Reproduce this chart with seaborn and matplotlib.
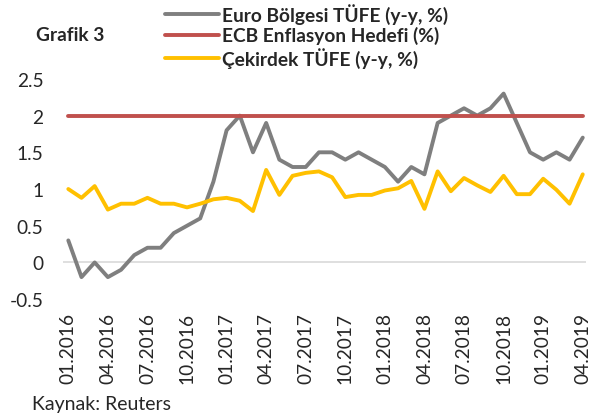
import matplotlib
matplotlib.use("Agg")
import matplotlib.pyplot as plt
import pandas as pd
import seaborn as sns

# aylar: 01.2016 - 04.2019
months = pd.date_range("2016-01-01", "2019-04-01", freq="MS").strftime("%m.%Y").tolist()

euro_cpi = [0.3, -0.2, 0.0, -0.2, -0.1, 0.1, 0.2, 0.2, 0.4, 0.5, 0.6, 1.1,
            1.8, 2.0, 1.5, 1.9, 1.4, 1.3, 1.3, 1.5, 1.5, 1.4, 1.5, 1.4,
            1.3, 1.1, 1.3, 1.2, 1.9, 2.0, 2.1, 2.0, 2.1, 2.3, 1.9, 1.5,
            1.4, 1.5, 1.4, 1.7]
ecb_target = [2.0] * len(months)
core_cpi = [1.0, 0.88, 1.04, 0.72, 0.8, 0.8, 0.88, 0.8, 0.8, 0.75, 0.8, 0.86,
            0.88, 0.84, 0.7, 1.26, 0.92, 1.18, 1.22, 1.24, 1.16, 0.89, 0.92, 0.92,
            0.98, 1.01, 1.11, 0.73, 1.24, 0.97, 1.15, 1.05, 0.96, 1.18, 0.93, 0.93,
            1.14, 0.99, 0.8, 1.2]

labels = ["Euro Bölgesi TÜFE (y-y, %)", "ECB Enflasyon Hedefi (%)", "Çekirdek TÜFE (y-y, %)"]
colors = ["#7f7f7f", "#c0504d", "#ffc000"]
yticks = [-0.5, 0, 0.5, 1, 1.5, 2, 2.5]

sns.set_style("white")
plt.rcParams["font.family"] = ["Lato", "DejaVu Sans"]

df = pd.DataFrame({"idx": range(len(months)), labels[0]: euro_cpi,
                   labels[1]: ecb_target, labels[2]: core_cpi})

fig = plt.figure(figsize=(5.89, 4.14), dpi=100)
ax = fig.add_axes([0.107, 0.275, 0.888, 0.532])

ax.axhline(0, color="#d9d9d9", linewidth=1.2, zorder=0)
for lab, col in zip(labels, colors):
    sns.lineplot(data=df, x="idx", y=lab, ax=ax, color=col, linewidth=2.8, label=lab)

ax.set_xlim(-0.4, 39.25)
ax.set_ylim(-0.5, 2.5)
ax.set_yticks(yticks)
ax.set_yticklabels([f"{v:g}" for v in yticks], fontsize=13.8)
ax.set_xticks(range(0, len(months), 3))
ax.set_xticklabels(months[::3], rotation=90, fontsize=13.8)
ax.tick_params(axis="y", length=0, pad=14)
ax.tick_params(axis="x", length=0, pad=9)
ax.set_xlabel("")
ax.set_ylabel("")
sns.despine(ax=ax, left=True, bottom=True)

leg = ax.legend(loc="upper left", bbox_to_anchor=(0.195, 1.345), frameon=False,
                fontsize=13.8, handlelength=2.8, handletextpad=0.15, labelspacing=0.13,
                borderaxespad=0, borderpad=0)
for t in leg.get_texts():
    t.set_fontweight("bold")

fig.text(0.061, 0.915, "Grafik 3", fontsize=13.8, fontweight="bold", va="center")
fig.text(0.054, 0.003, "Kaynak: Reuters", fontsize=14, va="bottom")

fig.savefig("out.png", dpi=100)
